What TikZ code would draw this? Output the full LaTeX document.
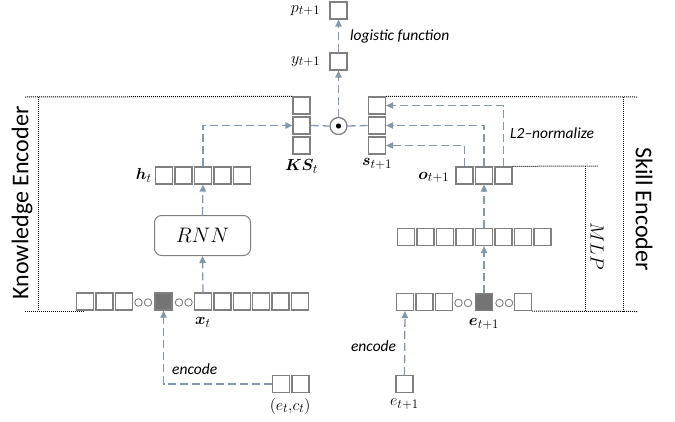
\RequirePackage{fix-cm}
\documentclass[tikz,border=0pt]{standalone}
\usepackage{fontspec}
\setmainfont{Carlito}
\usepackage{amsmath,bm}
\usetikzlibrary{positioning,calc,arrows.meta}
\DeclareMathSizes{16}{16}{13}{11}

\definecolor{boxgray}{HTML}{808080}
\definecolor{fillgray}{HTML}{747474}
\definecolor{flow}{HTML}{8497B0}

\tikzset{
  cell/.style={draw=boxgray, line width=1.3pt, minimum size=17pt, inner sep=0pt},
  hot/.style={cell, fill=fillgray},
  gapdot/.style={circle, draw=boxgray, line width=0.9pt, minimum size=7.5pt, inner sep=0pt},
  flowline/.style={draw=flow, line width=1.3pt, dash pattern=on 8pt off 4pt},
  flowarrow/.style={flowline, -{Triangle[width=6.5pt,length=7pt]}},
  bracket/.style={densely dotted, line width=1pt},
  lbl/.style={font=\fontsize{16}{18}\selectfont, inner sep=1pt},
  note/.style={font=\itshape\fontsize{15.5}{18}\selectfont, inner sep=1pt},
  side/.style={font=\fontsize{24}{28}\selectfont, inner sep=0pt},
}

\begin{document}
\begin{tikzpicture}[x=1pt, y=-1pt]
    \useasboundingbox (0,0) rectangle (675,421);

    % Knowledge encoder: input row x_t
    \foreach \n/\x in {1/85,2/104.5,3/124}
        \node[cell] (xl\n) at (\x,301.5) {};
    \node[gapdot] (xc1) at (138.5,302.5) {};
    \node[gapdot] (xc2) at (148,302.5) {};
    \node[hot] (xg) at (163.5,301.5) {};
    \node[gapdot] (xc3) at (179,302.5) {};
    \node[gapdot] (xc4) at (188.5,302.5) {};
    \foreach \n/\x in {1/203,2/222.4,3/241.8,4/261.2,5/280.6,6/300}
        \node[cell] (xr\n) at (\x,301.5) {};
    \node[lbl, below=6pt of xr1] (xlab) {$\bm{x}_t$};

    % input pair
    \node[cell] (in1) at (281,384) {};
    \node[cell] (in2) at (300.5,384) {};
    \node[lbl, below=4pt of in1.south east] (inlab) {$(e_t{,}c_t)$};

    % RNN and hidden state
    \node[draw=boxgray, line width=1pt, rounded corners=7pt, minimum width=96pt,
          minimum height=40pt, font=\fontsize{21}{24}\selectfont] (rnn) at (202.5,235.5) {$RNN$};
    \foreach \n/\x in {1/164,2/183.5,3/203,4/222.5,5/242}
        \node[cell] (h\n) at (\x,175.5) {};
    \node[lbl, left=2pt of h1] (hlab) {$\bm{h}_t$};

    % knowledge state
    \foreach \n/\y in {1/105.5,2/125.5,3/145.5}
        \node[cell] (k\n) at (301.5,\y) {};
    \node[lbl, below=4pt of k3] (klab) {$\bm{KS}_t$};

    % product and output
    \node[circle, draw=boxgray, line width=1.3pt, minimum size=17pt, inner sep=0pt] (dot) at (338.5,126) {};
    \fill (dot) circle (2.6pt);
    \node[cell] (yb) at (338.5,61.5) {};
    \node[cell] (pb) at (338.5,10.5) {};
    \node[lbl, left=8pt of yb] (ylab) {$y_{t+1}$};
    \node[lbl, left=8pt of pb] (plab) {$p_{t+1}$};

    % Skill encoder: input row e_{t+1}
    \foreach \n/\x in {1/405,2/424.5,3/444}
        \node[cell] (el\n) at (\x,302) {};
    \node[gapdot] (ec1) at (458.5,303) {};
    \node[gapdot] (ec2) at (468,303) {};
    \node[hot] (eg) at (484,302) {};
    \node[gapdot] (ec3) at (499.5,303) {};
    \node[gapdot] (ec4) at (509,303) {};
    \node[cell] (er1) at (523,302) {};
    \node[lbl, below=6pt of eg] (elab) {$\bm{e}_{t+1}$};

    \node[cell] (ein) at (404.5,384) {};
    \node[lbl, below=4pt of ein] (einlab) {$e_{t+1}$};

    % MLP layers
    \foreach \n/\x in {1/406,2/425.5,3/445,4/464.5,5/484,6/503.5,7/523,8/542.5}
        \node[cell] (m\n) at (\x,237) {};
    \foreach \n/\x in {1/464.5,2/484,3/503.5}
        \node[cell] (o\n) at (\x,175.5) {};
    \node[lbl, left=5pt of o1, yshift=-2pt] (olab) {$\bm{o}_{t+1}$};

    % skill vector
    \foreach \n/\y in {1/105.5,2/125.5,3/145.5}
        \node[cell] (s\n) at (377,\y) {};
    \node[lbl, below=3pt of s3] (slab) {$\bm{s}_{t+1}$};

    % flow
    \draw[flowarrow] (in1.west) -| node[note, pos=0.6, right=7pt] {encode} (xg.south);
    \draw[flowarrow] (xr1.north) -- (rnn.south);
    \draw[flowarrow] (rnn.north) -- (h3.south);
    \draw[flowarrow] (h3.north) |- (k2.west);
    \draw[flowline] (k2.east) -- (dot.west);
    \draw[flowline] (dot.east) -- (s2.west);
    \draw[flowarrow] (dot.north) -- (yb.south);
    \draw[flowarrow] (yb.north) -- node[note, right=10pt] {logistic function} (pb.south);
    \draw[flowarrow] (ein.north) -- node[note, pos=0.45, left=7pt] {encode} (el1.south);
    \draw[flowarrow] (eg.north) -- (m5.south);
    \draw[flowarrow] (m5.north) -- (o2.south);
    \draw[flowarrow] (o1.north) |- (s3.east);
    \draw[flowarrow] (o2.north) |- (s2.east);
    \draw[flowarrow] (o3.north) |- node[note, pos=0.27, right=5pt] {L2--normalize} (s1.east);

    % brackets
    \coordinate (kt) at (25,97);
    \coordinate (kb) at (25,311);
    \draw[bracket] (kt) -- (k1.north west);
    \draw[bracket] (38,97) -- (38,311);
    \draw[bracket] (kb) -- (84,311);
    \coordinate (st) at (637,97);
    \coordinate (sb) at (637,311.5);
    \draw[bracket] (s1.north east) -- (st);
    \draw[bracket] (623,97) -- (623,311.5);
    \draw[bracket] (er1.south east) -- (sb);
    \coordinate (mt) at (598,166);
    \draw[bracket] (o3.north east) -- (mt);
    \draw[bracket] (585,166) -- (585,311.5);

    \node[side, rotate=90] (know) at (22,203) {Knowledge Encoder};
    \node[side, rotate=-90] (skill) at (644,209) {Skill Encoder};
    \node[font=\fontsize{19}{22}\selectfont, rotate=-90, inner sep=0pt] (mlp) at (597,246) {$MLP$};
\end{tikzpicture}
\end{document}
